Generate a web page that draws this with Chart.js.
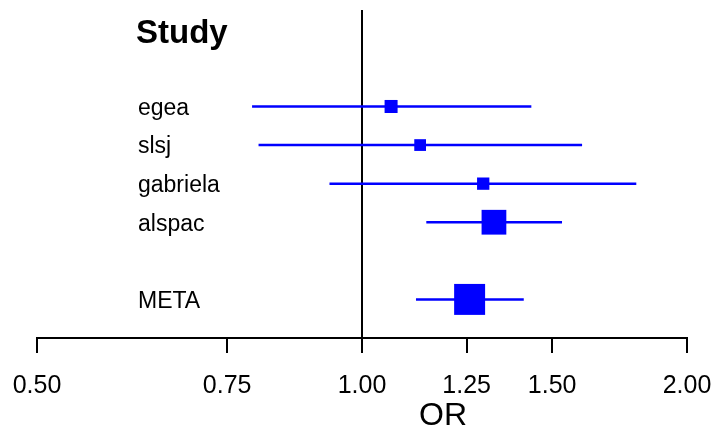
<!DOCTYPE html>
<html>
<head>
<meta charset="utf-8">
<script src="https://cdn.jsdelivr.net/npm/chart.js@4.4.1/dist/chart.umd.min.js"></script>
<style>
  html, body { margin: 0; padding: 0; background: #fff; }
  #wrap { width: 720px; height: 435px; position: relative; }
</style>
</head>
<body>
<div id="wrap"><canvas id="forestChart"></canvas></div>
<script>
// odds ratios with 95% CI, one row per study plus the pooled estimate
const studies = ['egea', 'slsj', 'gabriela', 'alspac', 'META'];
const rowPos = [2, 3, 4, 5, 7];
const orEst = [1.064, 1.132, 1.295, 1.325, 1.258];
const ciLow = [0.791, 0.802, 0.933, 1.147, 1.122];
const ciHigh = [1.435, 1.599, 1.795, 1.532, 1.412];
const tickVals = [0.5, 0.75, 1, 1.25, 1.5, 2];

const BLUE = '#0000ff';
const FONT = '"Liberation Sans", Arial, Helvetica, sans-serif';

// one dataset per confidence interval line
const ciSets = studies.map((s, i) => ({
    label: s + ' CI',
    data: [{x: ciLow[i], y: rowPos[i]}, {x: ciHigh[i], y: rowPos[i]}],
    showLine: true,
    borderColor: BLUE,
    borderWidth: 2.5,
    pointRadius: 0,
    order: 1
}));

const textLabels = {
    id: 'textLabels',
    afterDraw(chart) {
        const ctx = chart.ctx;
        const y = chart.scales.y;
        ctx.save();
        ctx.fillStyle = '#000';
        ctx.textAlign = 'left';
        ctx.textBaseline = 'middle';
        ctx.font = 'bold 33px ' + FONT;
        ctx.fillText('Study', 136, y.getPixelForValue(0) + 5);
        ctx.font = '23px ' + FONT;
        studies.forEach((s, i) => {
            ctx.fillText(s, 138, y.getPixelForValue(rowPos[i]) + 2);
        });
        ctx.textAlign = 'center';
        ctx.font = '32px ' + FONT;
        ctx.fillText('OR', 443, 416);
        ctx.restore();
    }
};

const ctx = document.getElementById('forestChart').getContext('2d');
const forestChart = new Chart(ctx, {
    type: 'scatter',
    data: {
        datasets: [
            {
                label: 'OR',
                data: orEst.map((v, i) => ({x: v, y: rowPos[i]})),
                pointStyle: 'rect',
                pointRadius: [9.2, 8.3, 8.7, 17.5, 21.9],
                backgroundColor: BLUE,
                borderColor: BLUE,
                borderWidth: 0,
                order: 0
            },
            ...ciSets,
            {
                label: 'no effect',
                data: [{x: 1, y: -0.5}, {x: 1, y: 8}],
                showLine: true,
                borderColor: '#000',
                borderWidth: 2,
                pointRadius: 0,
                order: 2
            }
        ]
    },
    options: {
        responsive: true,
        maintainAspectRatio: false,
        animation: false,
        layout: {
            autoPadding: false,
            padding: {left: 37, right: 33, top: 10, bottom: 16}
        },
        scales: {
            x: {
                type: 'logarithmic',
                min: 0.5,
                max: 2,
                afterBuildTicks: (axis) => {
                    axis.ticks = tickVals.map(v => ({value: v}));
                },
                // end labels may hang past the plot edges
                afterFit: (axis) => {
                    axis.paddingLeft = 0;
                    axis.paddingRight = 0;
                },
                ticks: {
                    autoSkip: false,
                    maxRotation: 0,
                    color: '#000',
                    padding: 18,
                    font: {family: FONT, size: 25},
                    callback: (v) => Number(v).toFixed(2)
                },
                grid: {
                    drawOnChartArea: false,
                    drawTicks: true,
                    tickLength: 15,
                    color: '#000',
                    lineWidth: 2
                },
                border: {display: true, color: '#000', width: 2}
            },
            y: {
                type: 'linear',
                reverse: true,
                min: -0.5,
                max: 8,
                display: false
            }
        },
        plugins: {
            legend: {display: false},
            tooltip: {enabled: false}
        }
    },
    plugins: [textLabels]
});
</script>
</body>
</html>
